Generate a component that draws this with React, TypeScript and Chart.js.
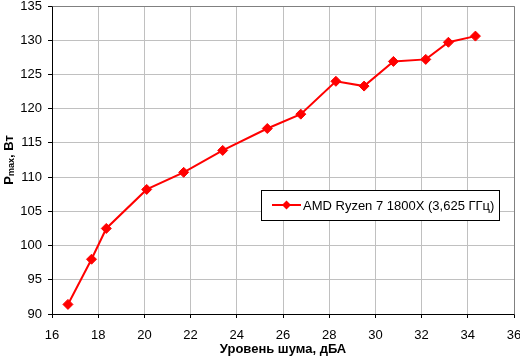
import React, { useEffect, useRef } from "react";
import { Chart, registerables } from "chart.js";
Chart.register(...registerables);

const noiseDb = [16.69, 17.71, 18.35, 20.1, 21.7, 23.39, 25.32, 26.77, 28.29, 29.51, 30.78, 32.18, 33.16, 34.33];
const pMax = [91.4, 98.0, 102.5, 108.2, 110.7, 113.9, 117.1, 119.2, 124.0, 123.3, 126.9, 127.2, 129.7, 130.6];
const seriesLabel = "AMD Ryzen 7 1800X (3,625 ГГц)";
const xTitle = "Уровень шума, дБА";
const yTitleMain = "P";
const yTitleSub = "max";
const yTitleTail = ", Вт";
const xRange = [16, 36];
const yRange = [90, 135];

const FONT = 'Arial, "Liberation Sans", sans-serif';
const RED = "#ff0000";

const framePlugin = {
  id: "frame",
  beforeDatasetsDraw(chart: any) {
    const { ctx, chartArea: a } = chart;
    ctx.save();
    ctx.strokeStyle = "#808080";
    ctx.lineWidth = 1;
    ctx.beginPath();
    ctx.moveTo(Math.round(a.left) + 0.5, Math.round(a.top) + 0.5);
    ctx.lineTo(Math.round(a.right) + 0.5, Math.round(a.top) + 0.5);
    ctx.lineTo(Math.round(a.right) + 0.5, Math.round(a.bottom) + 0.5);
    ctx.stroke();
    ctx.restore();
  },
};

const yTitlePlugin = {
  id: "ytitle",
  afterDraw(chart: any) {
    const { ctx, chartArea: a } = chart;
    const cy = (a.top + a.bottom) / 2;
    ctx.save();
    ctx.translate(9, cy);
    ctx.rotate(-Math.PI / 2);
    ctx.fillStyle = "#000";
    ctx.textBaseline = "middle";
    const big = `bold 13px ${FONT}`;
    const small = `bold 9px ${FONT}`;
    ctx.font = big;
    const w1 = ctx.measureText(yTitleMain).width;
    const w3 = ctx.measureText(yTitleTail).width;
    ctx.font = small;
    const w2 = ctx.measureText(yTitleSub).width;
    const total = w1 + w2 + w3;
    let x = -total / 2;
    ctx.textAlign = "left";
    ctx.font = big;
    ctx.fillText(yTitleMain, x, 0);
    x += w1;
    ctx.font = small;
    ctx.fillText(yTitleSub, x, 3);
    x += w2;
    ctx.font = big;
    ctx.fillText(yTitleTail, x, 0);
    ctx.restore();
  },
};

const legendPlugin = {
  id: "boxlegend",
  afterDraw(chart: any) {
    const { ctx } = chart;
    const x0 = 261, y0 = 190, x1 = 499, y1 = 220;
    ctx.save();
    ctx.fillStyle = "#fff";
    ctx.fillRect(x0, y0, x1 - x0, y1 - y0);
    ctx.strokeStyle = "#000";
    ctx.lineWidth = 1;
    ctx.strokeRect(x0 + 0.5, y0 + 0.5, x1 - x0, y1 - y0);
    const cy = (y0 + y1) / 2;
    ctx.strokeStyle = RED;
    ctx.lineWidth = 2;
    ctx.beginPath();
    ctx.moveTo(272, cy);
    ctx.lineTo(301, cy);
    ctx.stroke();
    ctx.fillStyle = RED;
    ctx.beginPath();
    const mx = 286.5, r = 4.5;
    ctx.moveTo(mx, cy - r);
    ctx.lineTo(mx + r, cy);
    ctx.lineTo(mx, cy + r);
    ctx.lineTo(mx - r, cy);
    ctx.closePath();
    ctx.fill();
    ctx.fillStyle = "#000";
    ctx.font = `13px ${FONT}`;
    ctx.textBaseline = "middle";
    ctx.textAlign = "left";
    ctx.fillText(chart.data.datasets[0].label, 303, cy + 1);
    ctx.restore();
  },
};

export default function App() {
  const ref = useRef<HTMLCanvasElement>(null);
  useEffect(() => {
    if (!ref.current) return;
    const chart = new Chart(ref.current, {
      type: "line",
      data: {
        datasets: [
          {
            label: seriesLabel,
            data: noiseDb.map((x, i) => ({ x, y: pMax[i] })),
            borderColor: RED,
            backgroundColor: RED,
            borderWidth: 2,
            pointStyle: "rectRot",
            pointRadius: 5,
            pointBorderWidth: 1,
            pointBackgroundColor: RED,
            pointBorderColor: RED,
            tension: 0,
          },
        ],
      },
      options: {
        animation: false,
        responsive: false,
        layout: { padding: { left: 0, right: 6, top: 5, bottom: 0 } },
        plugins: { legend: { display: false }, tooltip: { enabled: false } },
        scales: {
          x: {
            type: "linear",
            min: xRange[0],
            max: xRange[1],
            ticks: { stepSize: 2, color: "#000", font: { family: FONT, size: 13 }, padding: 10, maxRotation: 0 },
            grid: { color: "#c0c0c0", tickColor: "#000", tickLength: 4 },
            border: { color: "#000" },
            title: { display: true, text: xTitle, color: "#000", font: { family: FONT, size: 13, weight: "bold" }, padding: { top: 0, bottom: 0 } },
            afterFit(s: any) {
              s.height = 43;
              s.paddingLeft = 0;
              s.paddingRight = 0;
            },
          },
          y: {
            min: yRange[0],
            max: yRange[1],
            ticks: { stepSize: 5, color: "#000", font: { family: FONT, size: 13 }, padding: 6 },
            grid: { color: "#c0c0c0", tickColor: "#000", tickLength: 4 },
            border: { color: "#000" },
            afterFit(s: any) {
              s.width = 52;
              s.paddingTop = 0;
              s.paddingBottom = 0;
            },
          },
        },
      },
      plugins: [framePlugin, yTitlePlugin, legendPlugin],
    });
    return () => chart.destroy();
  }, []);
  return (
    <div style={{ position: "absolute", left: 0, top: 0, width: 520, height: 357, background: "#fff" }}>
      <canvas ref={ref} width={520} height={357} />
    </div>
  );
}
